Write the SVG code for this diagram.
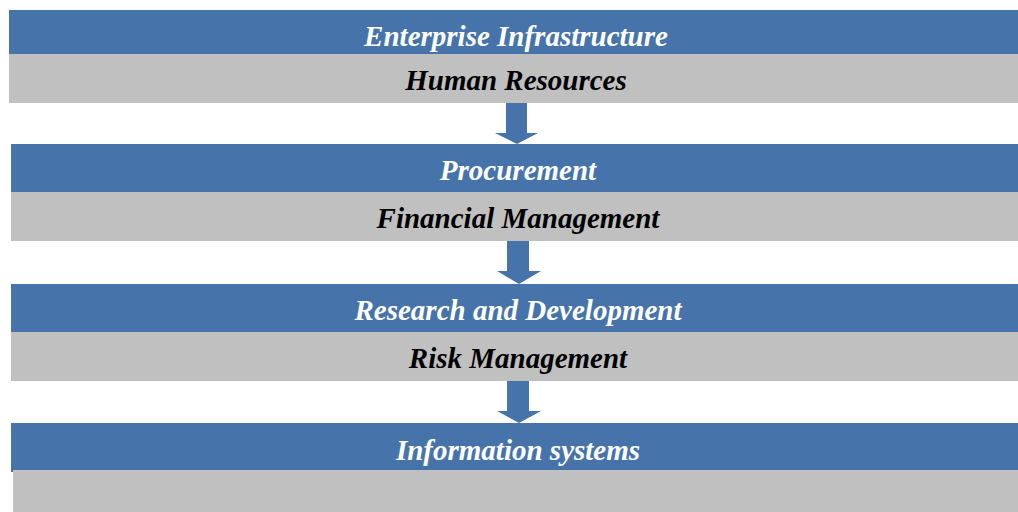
<svg xmlns="http://www.w3.org/2000/svg" width="1018" height="512" viewBox="0 0 1018 512">
<style>
.b{fill:#4674AA}
.g{fill:#C0C0C0}
.t{font-family:"Liberation Serif","Times New Roman",serif;font-weight:bold;font-style:italic;font-size:29px;text-anchor:middle}
.w{fill:#FFFFFF}
.k{fill:#000000}
</style>
<rect width="1018" height="512" fill="#FFFFFF"/>
<g id="block1">
<rect class="b" x="9" y="10" width="1009" height="44"/>
<rect class="g" x="9" y="54" width="1009" height="49"/>
<text class="t w" x="516" y="46">Enterprise Infrastructure</text>
<text class="t k" x="516" y="90">Human Resources</text>
</g>
<g id="block2">
<rect class="b" x="11" y="144" width="1007" height="48"/>
<rect class="g" x="11" y="192" width="1007" height="49"/>
<text class="t w" x="518" y="180">Procurement</text>
<text class="t k" x="518" y="228">Financial Management</text>
</g>
<g id="block3">
<rect class="b" x="11" y="284" width="1007" height="48"/>
<rect class="g" x="11" y="332" width="1007" height="49"/>
<text class="t w" x="518" y="320">Research and Development</text>
<text class="t k" x="518" y="368">Risk Management</text>
</g>
<g id="block4">
<rect class="b" x="11" y="423" width="1007" height="47"/>
<rect class="b" x="11" y="470" width="2" height="2"/>
<rect class="g" x="13" y="470" width="1005" height="42"/>
<text class="t w" x="518" y="460">Information systems</text>
</g>
<g id="connectors">
<polygon class="b" points="506,103 527,103 527,133 538,133 517,144 495,133 506,133"/>
<polygon class="b" points="507,241 529,241 529,271 541,271 519,284 497,271 507,271"/>
<polygon class="b" points="507,381 529,381 529,411 541,411 519,423 497,411 507,411"/>
</g>
</svg>
